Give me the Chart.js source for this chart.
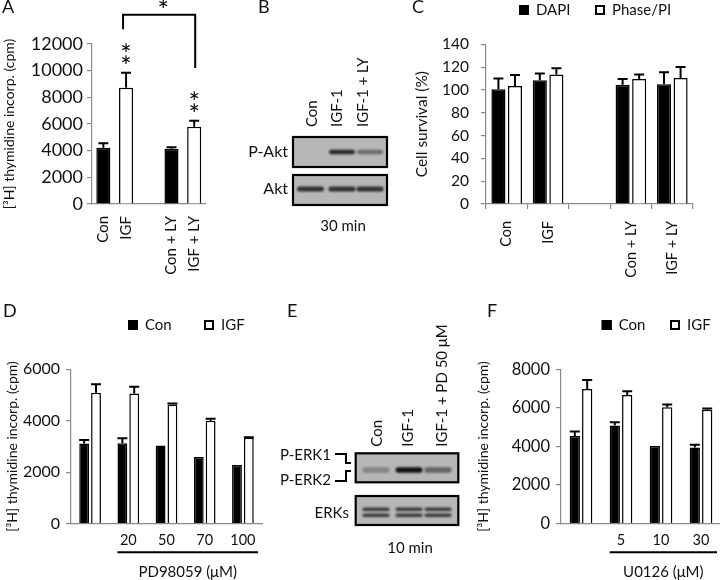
<!DOCTYPE html>
<html>
<head>
<meta charset="utf-8">
<script src="https://cdn.jsdelivr.net/npm/chart.js@4.4.1/dist/chart.umd.min.js"></script>
<style>
  body { margin: 0; width: 720px; height: 580px; overflow: hidden; position: relative; background: #fff; }
  canvas { position: absolute; }
</style>
</head>
<body>
<canvas id="bg" width="720" height="580" style="left:0;top:0"></canvas>
<canvas id="chartA" width="225" height="290" style="left:0;top:0"></canvas>
<canvas id="chartC" width="300" height="290" style="left:412px;top:0"></canvas>
<canvas id="chartD" width="280" height="290" style="left:0;top:290px"></canvas>
<canvas id="chartF" width="260" height="290" style="left:470px;top:290px"></canvas>
<script>
'use strict';
// panel A
const aLabels = ['Con', 'IGF', '', 'Con + LY', 'IGF + LY'];
const aValues = [4220, 8720, null, 4150, 5800];
const aErrors = [330, 1130, null, 100, 450];
const aStars = ['', '**', '', '', '**'];

// panel B blot
const bLanes = ['Con', 'IGF-1', 'IGF-1 + LY'];
const bPAkt = [0, 0.85, 0.45];
const bAkt = [0.8, 0.8, 0.8];

// panel C
const cLabels = ['Con', 'IGF', '', 'Con + LY', 'IGF + LY'];
const cDapi = [100.5, 108.5, null, 104.5, 105];
const cDapiErr = [9.5, 6, null, 5, 10.5];
const cPhase = [103.5, 113.5, null, 109.5, 110.5];
const cPhaseErr = [9.5, 5.5, null, 4, 9.5];

// panel D
const dLabels = ['', '20', '50', '70', '100'];
const dCon = [3120, 3130, 3040, 2590, 2280];
const dConErr = [130, 190, 0, 0, 0];
const dIgf = [5090, 5060, 4630, 4000, 3340];
const dIgfErr = [330, 260, 40, 80, 15];

// panel E blot
const eLanes = ['Con', 'IGF-1', 'IGF-1 + PD 50 μM'];
const ePErk = [0.3, 1, 0.5];
const eErk = [0.75, 0.75, 0.75];

// panel F
const fLabels = ['', '5', '10', '30'];
const fCon = [4540, 5090, 4030, 3950];
const fConErr = [240, 170, 0, 140];
const fIgf = [6980, 6670, 6030, 5900];
const fIgfErr = [470, 190, 150, 70];

const AXIS = '#8a8a8a';
const INK = '#111';
Chart.defaults.font.family = 'Lato';
Chart.defaults.color = INK;

// error bars (upper half only, like the original)
const errorBars = {
  id: 'errorBars',
  afterDatasetsDraw(chart) {
    const ctx = chart.ctx, y = chart.scales.y;
    ctx.save();
    ctx.strokeStyle = '#000';
    ctx.lineWidth = 2;
    chart.data.datasets.forEach((ds, i) => {
      chart.getDatasetMeta(i).data.forEach((bar, j) => {
        const v = ds.data[j], e = ds.errors[j];
        if (v == null || !e) return;
        const top = y.getPixelForValue(v + e);
        ctx.beginPath();
        ctx.moveTo(bar.x, bar.y);
        ctx.lineTo(bar.x, top);
        ctx.moveTo(bar.x - 5, top);
        ctx.lineTo(bar.x + 5, top);
        ctx.stroke();
      });
    });
    ctx.restore();
  }
};

// little legend with square keys
const keyBoxes = {
  id: 'keyBoxes',
  afterDraw(chart, args, o) {
    const ctx = chart.ctx;
    ctx.save();
    ctx.font = o.size + 'px Lato';
    ctx.textBaseline = 'middle';
    chart.data.datasets.forEach((ds, i) => {
      const x = o.x[i], y = o.y;
      ctx.fillStyle = ds.backgroundColor;
      ctx.fillRect(x, y - 5, 10, 10);
      ctx.strokeStyle = '#000';
      ctx.lineWidth = 2;
      ctx.strokeRect(x + 1, y - 4, 8, 8);
      ctx.fillStyle = INK;
      ctx.fillText(ds.label, x + 17, y);
    });
    ctx.restore();
  }
};

// dose line + caption under the x axis (D and F)
const doseBar = {
  id: 'doseBar',
  afterDraw(chart, args, o) {
    const ctx = chart.ctx;
    const first = chart.getDatasetMeta(0).data[1];
    const left = first.x - first.width / 2;
    const right = chart.chartArea.right - 4;
    const yl = chart.chartArea.bottom + 28.6;
    ctx.save();
    ctx.strokeStyle = '#000';
    ctx.lineWidth = 2;
    ctx.beginPath();
    ctx.moveTo(left, yl);
    ctx.lineTo(right, yl);
    ctx.stroke();
    ctx.fillStyle = INK;
    ctx.font = '15px Lato';
    ctx.textAlign = 'center';
    ctx.textBaseline = 'middle';
    ctx.fillText(o.text, (left + right) / 2, yl + 19.5);
    ctx.restore();
  }
};

// significance marks for A
const sigMarks = {
  id: 'sigMarks',
  afterDraw(chart) {
    const ctx = chart.ctx, y = chart.scales.y;
    const ds = chart.data.datasets[0];
    const bars = chart.getDatasetMeta(0).data;
    ctx.save();
    ctx.fillStyle = '#000';
    ctx.font = '27px Lato';
    ctx.textAlign = 'center';
    ctx.textBaseline = 'alphabetic';
    ds.stars.forEach((s, j) => {
      if (!s) return;
      const top = y.getPixelForValue(ds.data[j] + ds.errors[j]);
      for (let k = 0; k < s.length; k++) {
        ctx.fillText('*', bars[j].x, top - 12.5 - 11.5 * k + 15.5);
      }
    });
    const xl = bars[1].x - 3, xr = bars[4].x + 1;
    const yt = y.getPixelForValue(14200);
    ctx.strokeStyle = '#000';
    ctx.lineWidth = 2;
    ctx.beginPath();
    ctx.moveTo(xl, y.getPixelForValue(13100));
    ctx.lineTo(xl, yt);
    ctx.lineTo(xr, yt);
    ctx.lineTo(xr, y.getPixelForValue(10200));
    ctx.stroke();
    ctx.fillText('*', (xl + xr) / 2 + 4, yt - 10 + 15.5);
    ctx.restore();
  }
};

function yAxis(max, step, size, title, titleSize, titlePad, width, pad) {
  return {
    min: 0, max: max,
    ticks: { stepSize: step, padding: pad, font: { size: size }, callback: v => String(v) },
    grid: { drawOnChartArea: false, color: AXIS, tickLength: 5, lineWidth: 1.2 },
    border: { color: AXIS, width: 1.2 },
    title: { display: true, text: title, color: INK, font: { size: titleSize }, padding: { top: titlePad, bottom: 0 } },
    afterFit: s => { s.width = width; }
  };
}

const base = {
  responsive: false,
  animation: false,
  devicePixelRatio: 1,
  plugins: { legend: { display: false }, tooltip: { enabled: false } }
};

// A
new Chart(document.getElementById('chartA'), {
  type: 'bar',
  data: {
    labels: aLabels,
    datasets: [{
      data: aValues,
      errors: aErrors,
      stars: aStars,
      backgroundColor: aLabels.map(l => l.startsWith('Con') ? '#000' : '#fff'),
      borderColor: '#000',
      borderWidth: 1.5,
      barPercentage: 0.62,
      categoryPercentage: 1
    }]
  },
  options: Object.assign({}, base, {
    layout: { padding: { top: 44, right: 8, left: 0, bottom: 0 } },
    scales: {
      x: {
        grid: { display: false, drawTicks: false },
        border: { color: AXIS, width: 1.2 },
        ticks: { minRotation: 90, maxRotation: 90, autoSkip: false, padding: 12, font: { size: 15 } },
        afterFit: s => { s.height = 86; }
      },
      y: yAxis(12000, 2000, 18, '[³H] thymidine incorp. (cpm)', 14, 1, 92, 4)
    }
  }),
  plugins: [errorBars, sigMarks]
});

// C
new Chart(document.getElementById('chartC'), {
  type: 'bar',
  data: {
    labels: cLabels,
    datasets: [
      { label: 'DAPI', data: cDapi, errors: cDapiErr, backgroundColor: '#000' },
      { label: 'Phase/PI', data: cPhase, errors: cPhaseErr, backgroundColor: '#fff' }
    ]
  },
  options: Object.assign({}, base, {
    layout: { padding: { top: 44.3, right: 19, left: 0, bottom: 0 } },
    datasets: { bar: { borderColor: '#000', borderWidth: 1.5, barPercentage: 0.85, categoryPercentage: 0.8 } },
    plugins: Object.assign({}, base.plugins, { keyBoxes: { x: [107, 183], y: 10, size: 15 } }),
    scales: {
      x: {
        grid: { drawOnChartArea: false, color: AXIS, tickLength: 5, lineWidth: 1.2 },
        border: { color: AXIS, width: 1.2 },
        ticks: { minRotation: 90, maxRotation: 90, autoSkip: false, padding: 12, font: { size: 14.5 } },
        afterFit: s => { s.height = 86; }
      },
      y: yAxis(140, 20, 15.5, 'Cell survival (%)', 15.5, 0.5, 74, 12)
    }
  }),
  plugins: [errorBars, keyBoxes]
});

function doseChart(id, labels, con, conErr, igf, igfErr, max, step, caption, keyX, yWidth, padRight, titlePad, tickSize) {
  return new Chart(document.getElementById(id), {
    type: 'bar',
    data: {
      labels: labels,
      datasets: [
        { label: 'Con', data: con, errors: conErr, backgroundColor: '#000' },
        { label: 'IGF', data: igf, errors: igfErr, backgroundColor: '#fff' }
      ]
    },
    options: Object.assign({}, base, {
      layout: { padding: { top: 79.3, right: padRight, left: 0, bottom: 0 } },
      datasets: { bar: { borderColor: '#000', borderWidth: 1.5, barPercentage: 0.83, categoryPercentage: 0.62 } },
      plugins: Object.assign({}, base.plugins, {
        keyBoxes: { x: keyX, y: 35, size: 15 },
        doseBar: { text: caption }
      }),
      scales: {
        x: {
          grid: { display: false, drawTicks: false },
          border: { color: AXIS, width: 1.2 },
          ticks: { maxRotation: 0, autoSkip: false, padding: 8, font: { size: 14.5 } },
          afterFit: s => { s.height = 56.3; }
        },
        y: yAxis(max, step, tickSize, '[³H] thymidine incorp. (cpm)', 14, titlePad, yWidth, 6)
      }
    }),
    plugins: [errorBars, keyBoxes, doseBar]
  });
}

doseChart('chartD', dLabels, dCon, dConErr, dIgf, dIgfErr, 6000, 2000, 'PD98059 (μM)', [128, 204], 71, 18, 3.6, 16);
doseChart('chartF', fLabels, fCon, fConErr, fIgf, fIgfErr, 8000, 2000, 'U0126 (μM)', [131.7, 200], 91, 9, 4.6, 16.5);

// background: panel letters and the two blots
const g = document.getElementById('bg').getContext('2d');
g.fillStyle = INK;
g.font = '18px Lato';
[['A', 2, 13], ['B', 258, 13], ['C', 412, 13], ['D', 3, 317], ['E', 287, 317], ['F', 487, 317]]
  .forEach(([t, x, y]) => g.fillText(t, x, y));

function blotBox(x, y, w, h, bands, lanesX, cy, bw, bh) {
  g.save();
  g.fillStyle = '#b6b6b6';
  g.fillRect(x, y, w, h);
  g.beginPath();
  g.rect(x, y, w, h);
  g.clip();
  g.filter = 'blur(1.2px)';
  bands.forEach((k, i) => {
    if (!k) return;
    [].concat(cy).forEach(yy => {
      g.fillStyle = 'rgba(15,15,15,' + k + ')';
      g.beginPath();
      g.roundRect(lanesX[i] - bw / 2, yy - bh / 2, bw, bh, bh / 2);
      g.fill();
    });
  });
  g.restore();
  g.strokeStyle = '#000';
  g.lineWidth = 2.2;
  g.strokeRect(x, y, w, h);
}

function laneLabels(names, xs, bottom, size) {
  g.save();
  g.fillStyle = INK;
  g.font = size + 'px Lato';
  g.textAlign = 'left';
  g.textBaseline = 'middle';
  names.forEach((n, i) => {
    g.save();
    g.translate(xs[i], bottom);
    g.rotate(-Math.PI / 2);
    g.fillText(n, 0, 0);
    g.restore();
  });
  g.restore();
}

function label(t, x, y, align, size) {
  g.fillStyle = INK;
  g.font = size + 'px Lato';
  g.textAlign = align;
  g.textBaseline = 'middle';
  g.fillText(t, x, y);
}

// B
const bX = [310.5, 342, 370];
laneLabels(bLanes, [311.7, 336.7, 363.3], 127, 15);
blotBox(293, 137, 94, 30, bPAkt, bX, 152, 26, 4.5);
blotBox(293, 175, 94, 30, bAkt, bX, 189, 27, 5);
label('P-Akt', 288, 152, 'right', 16);
label('Akt', 288, 189, 'right', 16);
label('30 min', 343, 226, 'center', 15);

// E
const eX = [376, 409, 438];
laneLabels(eLanes, [376.7, 408.3, 441.7], 446.7, 15);
blotBox(355.7, 453.3, 102.6, 29, ePErk, eX, 470, 27, 5.5);
blotBox(355.7, 496, 102.6, 29, eErk, eX, [509.3, 515.3], 27, 3.5);
label('P-ERK1', 280, 455, 'left', 15);
label('P-ERK2', 280, 480, 'left', 15);
label('ERKs', 349, 513, 'right', 15);
label('10 min', 410, 548, 'center', 15);
g.strokeStyle = '#000';
g.lineWidth = 2;
g.beginPath();
g.moveTo(335, 454); g.lineTo(346, 454); g.lineTo(346, 463); g.lineTo(351, 463);
g.moveTo(351, 471); g.lineTo(346, 471); g.lineTo(346, 481); g.lineTo(335, 481);
g.stroke();
</script>
</body>
</html>
